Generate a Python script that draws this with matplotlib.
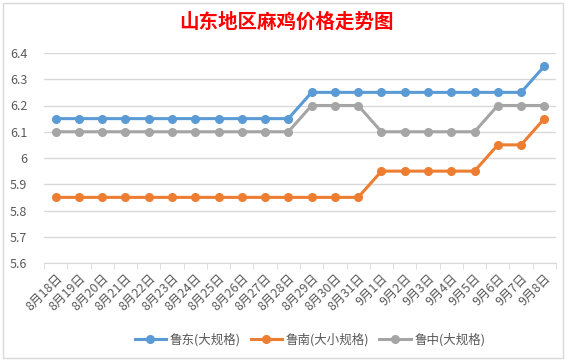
import matplotlib
matplotlib.use("Agg")
import matplotlib.pyplot as plt
import numpy as np
from matplotlib.patches import Rectangle

plt.rcParams['font.family'] = ['Noto Sans CJK SC', 'DejaVu Sans']

dates = ["8月18日", "8月19日", "8月20日", "8月21日", "8月22日", "8月23日", "8月24日",
         "8月25日", "8月26日", "8月27日", "8月28日", "8月29日", "8月30日", "8月31日",
         "9月1日", "9月2日", "9月3日", "9月4日", "9月5日", "9月6日", "9月7日", "9月8日"]
ludong = [6.15] * 11 + [6.25] * 10 + [6.35]
lunan = [5.85] * 14 + [5.95] * 5 + [6.05, 6.05, 6.15]
luzhong = [6.1] * 11 + [6.2] * 3 + [6.1] * 5 + [6.2] * 3

series = [
    ("鲁东(大规格)", ludong, "#5b9bd5"),
    ("鲁南(大小规格)", lunan, "#ed7d31"),
    ("鲁中(大规格)", luzhong, "#a5a5a5"),
]

W, H = 573, 364
fig = plt.figure(figsize=(W / 100, H / 100), dpi=100)
ax = fig.add_axes([44 / W, 1 - 263 / H, (556 - 44) / W, (263 - 53) / H])

# chart border (as in the spreadsheet screenshot)
fig.patches.append(Rectangle((3 / W, 6 / H), (563 - 3) / W, (361 - 6) / H,
                             transform=fig.transFigure, fill=False,
                             edgecolor="#d9d9d9", linewidth=1))

x = np.arange(len(dates))
for name, vals, color in series:
    ax.plot(x, vals, color=color, linewidth=2.2, marker="o", markersize=5.5,
            label=name)

ax.set_xlim(-0.5, len(dates) - 0.5)
ax.set_ylim(5.6, 6.4)
yt = np.round(np.arange(5.6, 6.41, 0.1), 1)
ax.set_yticks(yt)
ax.set_yticklabels([("%g" % v) for v in yt], fontsize=9, color="#595959")
ax.grid(axis="y", color="#d9d9d9", linewidth=1)
ax.set_axisbelow(True)

ax.set_xticks(x)
ax.set_xticklabels(dates, rotation=45, ha="right", rotation_mode="anchor",
                   fontsize=9, color="#595959")
ax.set_xticks(np.arange(-0.5, len(dates)), minor=True)
ax.tick_params(axis="x", which="major", length=0, pad=6)
ax.tick_params(axis="x", which="minor", length=4, color="#d9d9d9")
ax.tick_params(axis="y", length=0, pad=12)

for s in ["top", "right", "left"]:
    ax.spines[s].set_visible(False)
ax.spines["bottom"].set_color("#d9d9d9")

fig.text(0.5, 1 - 22 / H, "山东地区麻鸡价格走势图", ha="center", va="center",
         fontsize=14, fontweight="bold", color="#ff0000")

fig.legend(loc="center", bbox_to_anchor=(310 / W, 1 - 340 / H), ncol=3,
           frameon=False, fontsize=9, handlelength=2.5, columnspacing=0.8,
           handletextpad=0.3, labelcolor="#595959")

fig.savefig("out.png", dpi=100)
